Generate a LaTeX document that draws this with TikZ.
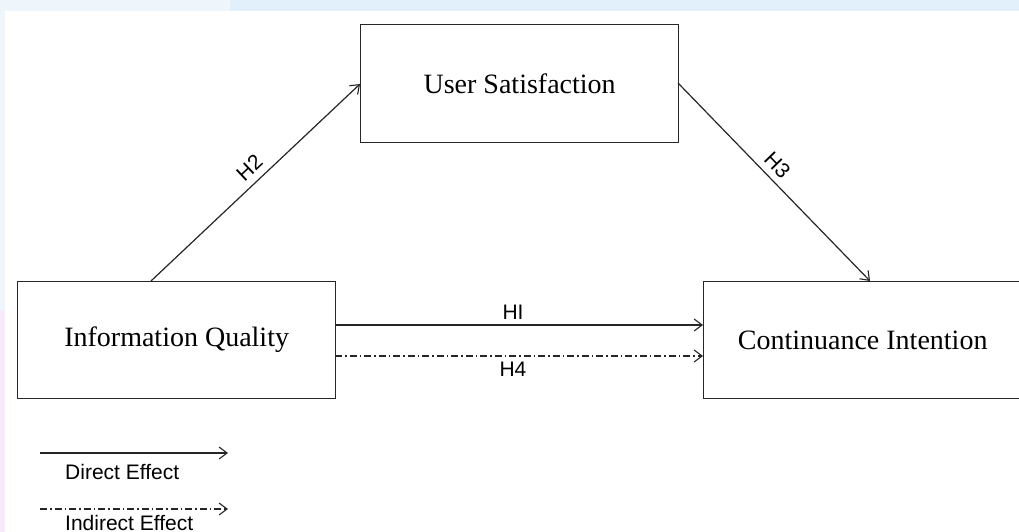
\documentclass[tikz,border=0pt]{standalone}
\usepackage{fontspec}
\setmainfont{Liberation Serif}
\newfontfamily\labelfont{Liberation Sans}
\usetikzlibrary{arrows.meta}
\definecolor{bandblue}{HTML}{E2F0FB}
\definecolor{bandlight}{HTML}{EEF6FC}
\definecolor{bandpink}{HTML}{F7EAFB}
\tikzset{
  construct/.style={draw=black!85, line width=1.3pt, fill=white, inner sep=0pt, anchor=north west},
  boxtext/.style={font=\fontsize{28}{31}\selectfont},
  lbl/.style={font=\labelfont\fontsize{21}{24}\selectfont, inner sep=2pt},
  effect/.style={line width=1.2pt, draw=black!85, -{Straight Barb[length=8pt,width=12pt,line width=1.1pt]}},
  indirect/.style={effect, dash pattern=on 7pt off 3pt on 1.5pt off 3pt},
}
\begin{document}
\begin{tikzpicture}[x=1pt,y=-1pt]
\useasboundingbox (0,0) rectangle (1019,532);
\clip (0,0) rectangle (1019,532);
% page background strips
\fill[white] (0,0) rectangle (1019,532);
\fill[bandblue] (0,0) rectangle (1019,11);
\fill[bandlight] (0,0) rectangle (230,11);
\fill[bandlight] (0,11) rectangle (5,310);
\fill[bandpink] (0,310) rectangle (5,532);
% constructs
\node[construct, minimum width=318pt, minimum height=118pt] (us) at (360,24) {};
\node[boxtext] (ustext) at (us.center) {User Satisfaction};
\node[construct, minimum width=318pt, minimum height=117pt] (iq) at (17,281) {};
\node[boxtext] (iqtext) at (iq.center) {Information Quality};
\node[construct, minimum width=318pt, minimum height=117pt] (ci) at (703,281) {};
\node[boxtext] (citext) at (ci.center) {Continuance Intention};
% connector end points
\coordinate (h2s) at (151,281);
\coordinate (h2e) at (360,84);
\coordinate (h3s) at (678,83);
\coordinate (h3e) at (870,281);
\coordinate (h1s) at (335,325);
\coordinate (h1e) at (703,325);
\coordinate (h4s) at (335,356);
\coordinate (h4e) at (703,356);
% paths
\draw[effect] (h2s) -- node[lbl, sloped, above=5pt, pos=0.52] {H2} (h2e);
\draw[effect] (h3s) -- node[lbl, sloped, above=4pt, pos=0.465] {H3} (h3e);
\draw[effect] (h1s) -- (h1e);
\draw[indirect] (h4s) -- (h4e);
\node[lbl] (h1lbl) at (513,312) {HI};
\node[lbl] (h4lbl) at (513,369) {H4};
% legend
\coordinate (ld1) at (40,453);
\coordinate (ld2) at (228,453);
\coordinate (li1) at (40,509);
\coordinate (li2) at (228,509);
\draw[effect] (ld1) -- (ld2);
\draw[indirect] (li1) -- (li2);
\node[lbl, anchor=west] (dlbl) at (63,472) {Direct Effect};
\node[lbl, anchor=west] (ilbl) at (63,523) {Indirect Effect};
\end{tikzpicture}
\end{document}
